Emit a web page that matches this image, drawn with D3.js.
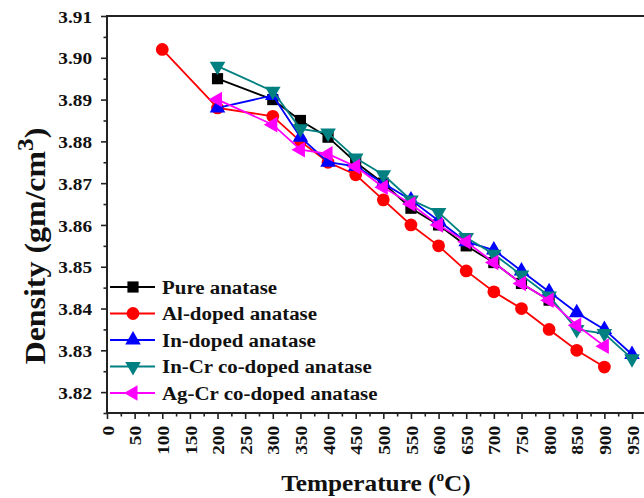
<!DOCTYPE html>
<html>
<head>
<meta charset="utf-8">
<script src="https://cdn.jsdelivr.net/npm/d3@7"></script>
<style>
  body { margin: 0; background: #fff; }
  svg { display: block; }
  text { font-family: "Liberation Serif", "Times New Roman", serif; font-weight: bold; fill: #111; }
</style>
</head>
<body>
<div id="chart"></div>
<script>
// data (temperature in C, density in gm/cm3)
var tempsPure = [200, 300, 350, 400, 450, 500, 550, 600, 650, 700, 750, 800];
var densPure  = [3.895, 3.890, 3.885, 3.881, 3.875, 3.870, 3.864, 3.860, 3.855, 3.851, 3.846, 3.842];

var tempsAl = [100, 200, 300, 350, 400, 450, 500, 550, 600, 650, 700, 750, 800, 850, 900];
var densAl  = [3.902, 3.888, 3.886, 3.880, 3.875, 3.872, 3.866, 3.860, 3.855, 3.849, 3.844, 3.840, 3.835, 3.830, 3.826];

var tempsIn = [200, 300, 350, 400, 450, 500, 550, 600, 650, 700, 750, 800, 850, 900, 950];
var densIn  = [3.888, 3.891, 3.881, 3.875, 3.874, 3.870, 3.866, 3.861, 3.856, 3.854, 3.849, 3.844, 3.839, 3.835, 3.829];

var tempsInCr = [200, 300, 350, 400, 450, 500, 550, 600, 650, 700, 750, 800, 850, 900, 950];
var densInCr  = [3.898, 3.892, 3.883, 3.882, 3.876, 3.872, 3.866, 3.863, 3.857, 3.853, 3.848, 3.843, 3.835, 3.834, 3.828];

var tempsAgCr = [200, 300, 350, 400, 450, 500, 550, 600, 650, 700, 750, 800, 850, 900];
var densAgCr  = [3.890, 3.884, 3.878, 3.877, 3.874, 3.869, 3.865, 3.860, 3.856, 3.851, 3.846, 3.842, 3.836, 3.831];

var seriesNames = ["Pure anatase", "Al-doped anatase", "In-doped anatase", "In-Cr co-doped anatase", "Ag-Cr co-doped anatase"];

var xTicks = d3.range(0, 951, 25);   // labelled every 50
var yTicks = d3.range(3.815, 3.9101, 0.005);

// styles kept apart from the values
var colors  = ["#000000", "#ff0000", "#0000ff", "#008080", "#ff00ff"];
var symbols = [d3.symbolSquare, d3.symbolCircle, d3.symbolTriangle, d3.symbolTriangle, d3.symbolTriangle];
var symSize = [125, 128, 105, 105, 105];
var symRot  = [0, 0, 0, 180, -90];

var series = [
  {temps: tempsPure, dens: densPure},
  {temps: tempsAl, dens: densAl},
  {temps: tempsIn, dens: densIn},
  {temps: tempsInCr, dens: densInCr},
  {temps: tempsAgCr, dens: densAgCr}
].map(function(s, i) {
  return {
    name: seriesNames[i], color: colors[i], sym: symbols[i], size: symSize[i], rot: symRot[i],
    points: s.temps.map(function(t, j) { return {t: t, d: s.dens[j]}; })
  };
});

var width = 644, height = 498;
var mLeft = 107, mTop = 16, mBottom = 413;
var SX = 1.1; // text in the figure is a bit wider than Times

var svg = d3.select("#chart").append("svg")
  .attr("width", width)
  .attr("height", height);

var x = d3.scaleLinear().domain([0, 950]).range([mLeft, 632]);
var y = d3.scaleLinear().domain([3.815, 3.91]).range([mBottom, mTop]);

// frame: left, bottom and top run off the right edge
svg.append("path")
  .attr("d", "M" + width + "," + mTop + "H" + mLeft + "V" + mBottom + "H" + width)
  .attr("fill", "none")
  .attr("stroke", "#222")
  .attr("stroke-width", 2);

// y axis
var yAxis = svg.append("g")
  .attr("transform", "translate(" + mLeft + ",0)")
  .call(d3.axisLeft(y).tickValues(yTicks).tickSize(0).tickFormat(""));
yAxis.select(".domain").remove();
yAxis.selectAll(".tick").each(function(v) {
  var major = Math.abs(Math.round(v * 100) - v * 100) < 1e-6;
  var g = d3.select(this);
  g.append("line").attr("x1", 0).attr("x2", major ? -6 : -3.5)
    .attr("stroke", "#222").attr("stroke-width", 1.6);
  if (major) {
    g.append("text")
      .attr("transform", "translate(-15,0) scale(" + SX + ",1)")
      .attr("text-anchor", "end")
      .attr("dy", "0.35em")
      .style("font-size", "17.5px")
      .text(d3.format(".2f")(v));
  }
});

// x axis
var xAxis = svg.append("g")
  .attr("transform", "translate(0," + mBottom + ")")
  .call(d3.axisBottom(x).tickValues(xTicks).tickSize(0).tickFormat(""));
xAxis.select(".domain").remove();
xAxis.selectAll(".tick").each(function(v) {
  var major = v % 50 === 0;
  var g = d3.select(this);
  g.append("line").attr("y1", 0).attr("y2", major ? 6 : 3.5)
    .attr("stroke", "#222").attr("stroke-width", 1.6);
  if (major) {
    g.append("text")
      .attr("transform", "rotate(-90) translate(-13,0) scale(" + SX + ",1)")
      .attr("text-anchor", "end")
      .attr("dy", "0.35em")
      .style("font-size", "17.5px")
      .text(v);
  }
});

// lines and markers
var line = d3.line()
  .x(function(d) { return x(d.t); })
  .y(function(d) { return y(d.d); });

series.forEach(function(s) {
  var g = svg.append("g");
  g.append("path")
    .datum(s.points)
    .attr("d", line)
    .attr("fill", "none")
    .attr("stroke", s.color)
    .attr("stroke-width", 1.8);
  g.selectAll("path.pt")
    .data(s.points)
    .enter().append("path")
    .attr("class", "pt")
    .attr("d", d3.symbol().type(s.sym).size(s.size))
    .attr("transform", function(d) { return "translate(" + x(d.t) + "," + y(d.d) + ") rotate(" + s.rot + ")"; })
    .attr("fill", s.color);
});

// legend
var legend = svg.append("g").attr("transform", "translate(110,287)");
series.forEach(function(s, i) {
  var row = legend.append("g").attr("transform", "translate(0," + (i * 26.5) + ")");
  row.append("line").attr("x1", 0).attr("x2", 45)
    .attr("stroke", s.color).attr("stroke-width", 1.8);
  row.append("path")
    .attr("d", d3.symbol().type(s.sym).size(s.size))
    .attr("transform", "translate(23,0) rotate(" + s.rot + ")")
    .attr("fill", s.color);
  row.append("text")
    .attr("transform", "translate(52,0) scale(" + SX + ",1)")
    .attr("dy", "0.35em")
    .style("font-size", "19px")
    .text(s.name);
});

// axis titles
var yTitle = svg.append("text")
  .attr("transform", "translate(45,246) rotate(-90) scale(" + SX + ",1)")
  .attr("text-anchor", "middle")
  .style("font-size", "29px");
yTitle.append("tspan").text("Density (gm/cm");
yTitle.append("tspan").attr("dy", -12).style("font-size", "23px").text("3");
yTitle.append("tspan").attr("dy", 12).text(")");

var xTitle = svg.append("text")
  .attr("transform", "translate(376,491) scale(" + SX + ",1)")
  .attr("text-anchor", "middle")
  .style("font-size", "23px");
xTitle.append("tspan").text("Temperature (");
xTitle.append("tspan").attr("dy", -10).style("font-size", "14px").text("o");
xTitle.append("tspan").attr("dy", 10).text("C)");
</script>
</body>
</html>
